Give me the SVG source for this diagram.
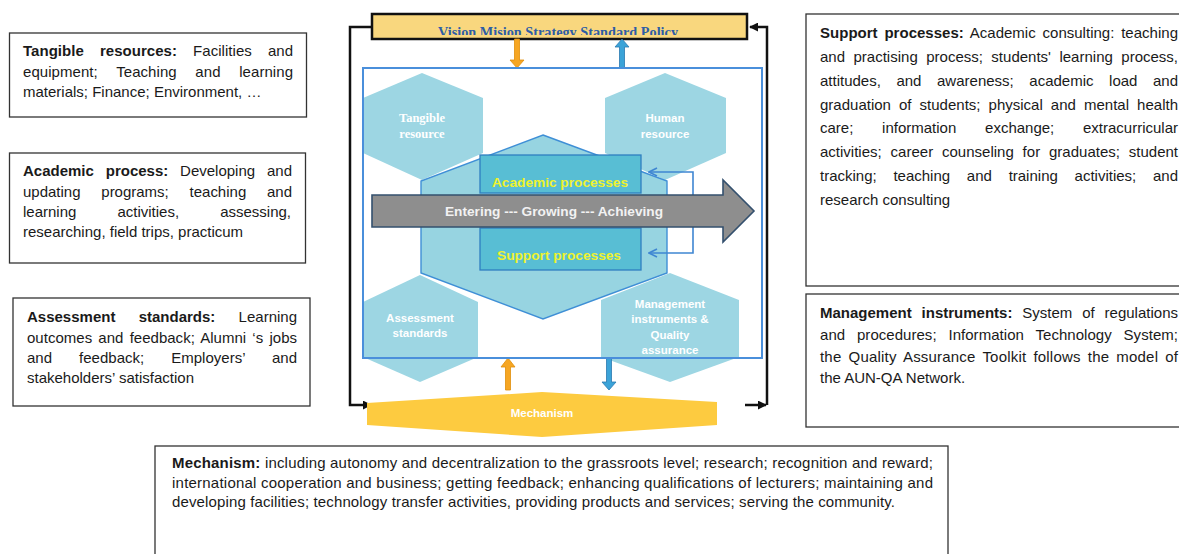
<svg xmlns="http://www.w3.org/2000/svg" width="1179" height="554" viewBox="0 0 1179 554">
<style>
.box{fill:#fff;stroke:#333;stroke-width:1.3}
.t{font-family:"Liberation Sans",Arial,sans-serif;font-size:15px;fill:#1a1a1a}
.b{font-weight:bold}
.hex{fill:#9dd6e3}
.hext{font-family:"Liberation Sans",Arial,sans-serif;font-weight:bold;font-size:11.5px;fill:#fff;text-anchor:middle}
.proc{fill:#58bed4;stroke:#2f7fc0;stroke-width:1.3}
.proct{font-family:"Liberation Sans",Arial,sans-serif;font-weight:bold;font-size:13.5px;fill:#eef22e;text-anchor:middle}
.loop{fill:none;stroke:#111;stroke-width:2.5}
.fb{fill:none;stroke:#3f86d2;stroke-width:1.6}
.org{fill:#f6a623;stroke:#e08e0b;stroke-width:0.8}
.blu{fill:#3ba3d8;stroke:#2a78b0;stroke-width:0.8}
</style>
<defs>
<marker id="ahk" viewBox="0 0 10 10" refX="9" refY="5" markerWidth="9" markerHeight="9" markerUnits="userSpaceOnUse" orient="auto"><path d="M0,0 L10,5 L0,10 z" fill="#111"/></marker>
<marker id="ahb" viewBox="0 0 10 10" refX="9" refY="5" markerWidth="10" markerHeight="10" markerUnits="userSpaceOnUse" orient="auto"><path d="M1,1 L9,5 L1,9" fill="none" stroke="#3f86d2" stroke-width="1.6"/></marker>
<clipPath id="vclip"><rect x="372" y="14" width="375" height="21"/></clipPath>
</defs>
<rect width="1179" height="554" fill="#fff"/>

<!-- left text boxes -->
<g id="box-tangible">
<rect class="box" x="9.5" y="33" width="297" height="84"/>
<text class="t" x="23" y="56" word-spacing="11.9" textLength="270" lengthAdjust="spacing"><tspan class="b">Tangible resources:</tspan> Facilities and</text>
<text class="t" x="23" y="76.5" word-spacing="14.4" textLength="270" lengthAdjust="spacing">equipment; Teaching and learning</text>
<text class="t" x="23" y="97">materials; Finance; Environment, …</text>
</g>
<g id="box-academic">
<rect class="box" x="9.5" y="153" width="296" height="110"/>
<text class="t" x="23" y="176" word-spacing="7.7" textLength="269" lengthAdjust="spacing"><tspan class="b">Academic process:</tspan> Developing and</text>
<text class="t" x="23" y="196.5" word-spacing="16.6" textLength="269" lengthAdjust="spacing">updating programs; teaching and</text>
<text class="t" x="23" y="217" word-spacing="36.9" textLength="268" lengthAdjust="spacing">learning activities, assessing,</text>
<text class="t" x="23" y="237">researching, field trips, practicum</text>
</g>
<g id="box-assessment">
<rect class="box" x="13" y="298" width="297" height="108"/>
<text class="t" x="27" y="322" word-spacing="19.1" textLength="270" lengthAdjust="spacing"><tspan class="b">Assessment standards:</tspan> Learning</text>
<text class="t" x="27" y="342.5" word-spacing="2" textLength="270" lengthAdjust="spacing">outcomes and feedback; Alumni ‘s jobs</text>
<text class="t" x="27" y="363" word-spacing="22.7" textLength="270" lengthAdjust="spacing">and feedback; Employers’ and</text>
<text class="t" x="27" y="383">stakeholders’ satisfaction</text>
</g>

<!-- right text boxes -->
<g id="box-support">
<rect class="box" x="806" y="14" width="385" height="272"/>
<text class="t" x="820" y="37.5" word-spacing="2.6" textLength="358" lengthAdjust="spacing"><tspan class="b">Support processes:</tspan> Academic consulting: teaching</text>
<text class="t" x="820" y="61.5" word-spacing="4.3" textLength="358" lengthAdjust="spacing">and practising process; students' learning process,</text>
<text class="t" x="820" y="85.5" word-spacing="11.4" textLength="358" lengthAdjust="spacing">attitudes, and awareness; academic load and</text>
<text class="t" x="820" y="109.5" word-spacing="3.9" textLength="358" lengthAdjust="spacing">graduation of students; physical and mental health</text>
<text class="t" x="820" y="133" word-spacing="24.6" textLength="358" lengthAdjust="spacing">care; information exchange; extracurricular</text>
<text class="t" x="820" y="157" word-spacing="4.7" textLength="358" lengthAdjust="spacing">activities; career counseling for graduates; student</text>
<text class="t" x="820" y="181" word-spacing="12.6" textLength="358" lengthAdjust="spacing">tracking; teaching and training activities; and</text>
<text class="t" x="820" y="204.5">research consulting</text>
</g>
<g id="box-management">
<rect class="box" x="806" y="294" width="385" height="133"/>
<text class="t" x="820" y="317.5" word-spacing="5.7" textLength="358" lengthAdjust="spacing"><tspan class="b">Management instruments:</tspan> System of regulations</text>
<text class="t" x="820" y="339.5" word-spacing="7.6" textLength="358" lengthAdjust="spacing">and procedures; Information Technology System;</text>
<text class="t" x="820" y="361.5" word-spacing="2.75" textLength="358" lengthAdjust="spacing">the Quality Assurance Toolkit follows the model of</text>
<text class="t" x="820" y="383">the AUN-QA Network.</text>
</g>

<!-- bottom text box -->
<g id="box-mechanism">
<rect class="box" x="155" y="446" width="793" height="125"/>
<text class="t" x="172" y="468" textLength="761" lengthAdjust="spacing"><tspan class="b">Mechanism:</tspan> including autonomy and decentralization to the grassroots level; research; recognition and reward;</text>
<text class="t" x="172" y="487.5" textLength="761" lengthAdjust="spacing">international cooperation and business; getting feedback; enhancing qualifications of lecturers; maintaining and</text>
<text class="t" x="172" y="507" textLength="723" lengthAdjust="spacing">developing facilities; technology transfer activities, providing products and services; serving the community.</text>
</g>

<!-- central diagram -->
<g id="node-vision">
<rect x="372" y="14" width="375" height="25" fill="#f9d77e" stroke="#111" stroke-width="2.5"/>
<text x="558" y="36.5" clip-path="url(#vclip)" font-family="'Liberation Serif',serif" font-weight="bold" font-size="14" fill="#2d5da6" text-anchor="middle" textLength="240" lengthAdjust="spacingAndGlyphs">Vision Mision Strategy Standard Policy</text>
</g>
<g id="node-tangible-resource">
<polygon class="hex" points="422,73 483,98 483,153 422,180 363,153 363,98"/>
<text class="hext" x="422" y="122" font-family="'Liberation Serif',serif" style="font-family:'Liberation Serif',serif;font-size:12.5px">Tangible</text>
<text class="hext" x="422" y="138" style="font-family:'Liberation Serif',serif;font-size:12.5px">resource</text>
</g>
<g id="node-human-resource">
<polygon class="hex" points="665,73 726,98 726,153 665,180 605,153 605,98"/>
<text class="hext" x="665" y="122">Human</text>
<text class="hext" x="665" y="138">resource</text>
</g>
<g id="node-assessment-standards">
<polygon class="hex" points="420,275 478,302 478,357 420,382 363,357 363,302"/>
<text class="hext" x="420" y="322">Assessment</text>
<text class="hext" x="420" y="337">standards</text>
</g>
<g id="node-management">
<polygon class="hex" points="670,273 739,300 739,357 670,382 601,357 601,300"/>
<text class="hext" x="670" y="308">Management</text>
<text class="hext" x="670" y="323">instruments &amp;</text>
<text class="hext" x="670" y="339">Quality</text>
<text class="hext" x="670" y="354">assurance</text>
</g>
<g id="node-core">
<polygon points="543,135 667,181 667,273 543,319 421,273 421,181" fill="#97d4e1" stroke="#3f8fd6" stroke-width="1.4"/>
</g>
<g id="node-academic-processes">
<rect class="proc" x="480" y="155" width="161" height="38"/>
<text class="proct" x="560" y="187" textLength="136" lengthAdjust="spacingAndGlyphs">Academic processes</text>
</g>
<g id="node-support-processes">
<rect class="proc" x="480" y="228" width="161" height="42"/>
<text class="proct" x="559" y="260" textLength="124" lengthAdjust="spacingAndGlyphs">Support processes</text>
</g>
<g id="connectors">
<path class="fb" d="M693,212 L693,172 L649,172" marker-end="url(#ahb)"/>
<path class="fb" d="M693,212 L693,253 L649,253" marker-end="url(#ahb)"/>
<path class="loop" d="M372,27 L350,27 L350,405 L371,405" marker-end="url(#ahk)"/>
<path class="loop" d="M767,405 L767,27 L750,27" marker-end="url(#ahk)"/>
<path class="loop" d="M745,405 L766,405" marker-end="url(#ahk)"/>
<polygon class="org" points="514.5,39 519.5,39 519.5,60 524,60 517,68 510,60 514.5,60"/>
<polygon class="blu" points="622,39 629,47 624.5,47 624.5,68 619.5,68 619.5,47 615,47"/>
<polygon class="org" points="508,358 515,367 510.5,367 510.5,390 505.5,390 505.5,367 501,367"/>
<polygon class="blu" points="606.5,358 611.5,358 611.5,382 616,382 609,390 602,382 606.5,382"/>
</g>
<g id="node-flow-arrow">
<polygon points="372,195 723,195 723,180 754,211 723,242 723,227 372,227" fill="#8e8e8e" stroke="#34506e" stroke-width="1.6"/>
<text x="554" y="216" font-family="'Liberation Sans',Arial,sans-serif" font-weight="bold" font-size="13.5" fill="#f2f2f2" text-anchor="middle" textLength="218" lengthAdjust="spacingAndGlyphs">Entering --- Growing --- Achieving</text>
</g>
<g id="frame">
<rect x="363" y="68" width="399" height="290" fill="none" stroke="#4a8fdb" stroke-width="2"/>
</g>
<g id="node-mechanism">
<polygon points="367,403 542,392 717,402 717,425 542,437 367,425" fill="#fdcb40"/>
<text x="542" y="417" font-family="'Liberation Sans',Arial,sans-serif" font-weight="bold" font-size="11.5" fill="#fff" text-anchor="middle">Mechanism</text>
</g>
</svg>
